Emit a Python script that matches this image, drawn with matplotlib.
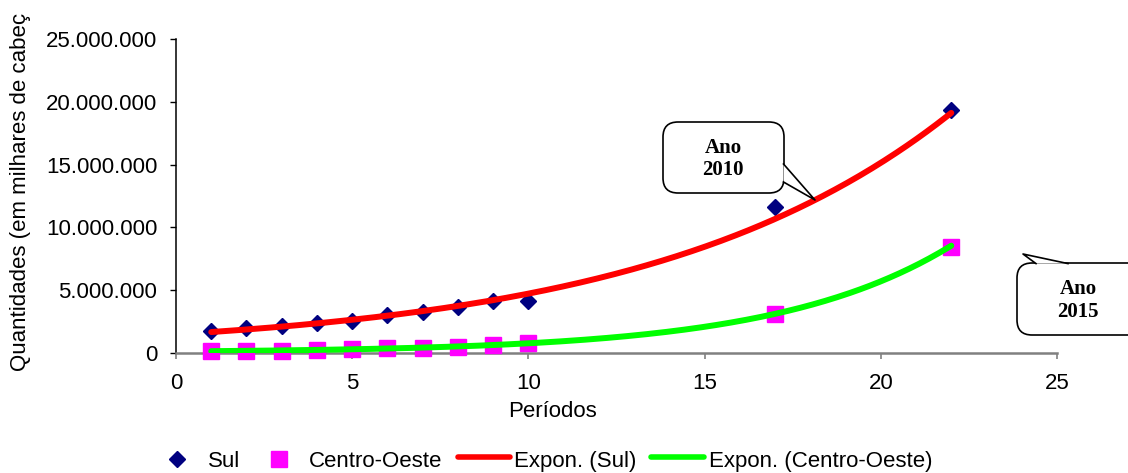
import numpy as np
import matplotlib
matplotlib.use("Agg")
import matplotlib.pyplot as plt
from matplotlib.lines import Line2D
from matplotlib.patches import FancyBboxPatch, Polygon
from matplotlib.ticker import FuncFormatter

# ---- data -------------------------------------------------------------
periodos = [1, 2, 3, 4, 5, 6, 7, 8, 9, 10, 17, 22]
sul = [1730000, 1950000, 2130000, 2350000, 2530000, 2980000,
       3270000, 3620000, 4100000, 4150000, 11600000, 19400000]
centro_oeste = [110000, 150000, 175000, 240000, 290000, 350000,
                400000, 480000, 630000, 740000, 3100000, 8400000]
y_ticks = [0, 5000000, 10000000, 15000000, 20000000, 25000000]
x_ticks = [0, 5, 10, 15, 20, 25]
y_title = "Quantidades (em milhares de cabeç"
x_title = "Períodos"

W, H, DPI = 1128, 473, 100
FONT = "Liberation Sans"
SERIF = "Liberation Serif"
FS = 16

fig = plt.figure(figsize=(W / DPI, H / DPI), dpi=DPI)
fig.patch.set_facecolor("white")

# axes placed in pixel terms
ax_l, ax_r, ax_t, ax_b = 176, 1057, 39.3, 352.7
ax = fig.add_axes([ax_l / W, (H - ax_b) / H, (ax_r - ax_l) / W, (ax_b - ax_t) / H])

x = np.array(periodos, dtype=float)

# scatter series
ax.plot(x, sul, linestyle="none", marker="D", ms=7.8, color="#000080",
        zorder=3, clip_on=False)
ax.plot(x, centro_oeste, linestyle="none", marker="s", ms=11.2, color="#FF00FF",
        zorder=3, clip_on=False)

# exponential trend lines (least squares on log values)
def expon_fit(xv, yv):
    b, lna = np.polyfit(xv, np.log(np.asarray(yv, dtype=float)), 1)
    return np.exp(lna), b

xs = np.linspace(min(periodos), max(periodos), 300)
a_s, b_s = expon_fit(x, sul)
a_c, b_c = expon_fit(x, centro_oeste)
ax.plot(xs, a_s * np.exp(b_s * xs), color="#FF0000", lw=4.3,
        solid_capstyle="round", zorder=4)
ax.plot(xs, a_c * np.exp(b_c * xs), color="#00FF00", lw=4.3,
        solid_capstyle="round", zorder=4)

ax.set_xlim(0, 25)
ax.set_ylim(0, 25000000)
ax.set_xticks(x_ticks)
ax.set_yticks(y_ticks)
ax.yaxis.set_major_formatter(FuncFormatter(
    lambda v, p: "0" if v == 0 else f"{int(round(v)):,}".replace(",", ".")))
ax.xaxis.set_major_formatter(FuncFormatter(lambda v, p: f"{int(v)}"))

for s in ("top", "right"):
    ax.spines[s].set_visible(False)
ax.spines["left"].set_color("black")
ax.spines["left"].set_linewidth(1.1)
ax.spines["bottom"].set_color("#808080")
ax.spines["bottom"].set_linewidth(1.8)
ax.spines["left"].set_zorder(2)
ax.spines["bottom"].set_zorder(2)

ax.tick_params(axis="y", direction="out", length=4.5, width=1.0, color="black",
               pad=9, labelsize=FS, labelcolor="black")
ax.tick_params(axis="x", direction="out", length=4.5, width=1.2, color="#808080",
               pad=10, labelsize=FS, labelcolor="black")
for lbl in ax.get_xticklabels() + ax.get_yticklabels():
    lbl.set_fontfamily(FONT)

# axis titles
fig.text(553 / W, 1 - 417 / H, x_title, ha="center", va="baseline",
         fontsize=FS, family=FONT)
fig.text(21 / W, 1 - 371 / H, y_title,
         rotation=90, ha="center", va="bottom", fontsize=FS, family=FONT)

# helpers working in image pixel coordinates (origin top-left)
tr = fig.dpi_scale_trans
def P(px, py):
    return (px / DPI, (H - py) / DPI)

def callout(x0, y0, x1, y1, tail, lines, line_y, cx):
    box = FancyBboxPatch(P(x0, y1), (x1 - x0) / DPI, (y1 - y0) / DPI,
                         boxstyle="round,pad=0,rounding_size=0.15",
                         transform=tr, facecolor="white", edgecolor="black",
                         lw=1.2, zorder=10)
    fig.add_artist(box)
    fig.add_artist(Polygon([P(*pt) for pt in tail], closed=True, transform=tr,
                           facecolor="white", edgecolor="none", zorder=11))
    p0, tip, p1 = tail
    fig.add_artist(Line2D([P(*p0)[0], P(*tip)[0], P(*p1)[0]],
                          [P(*p0)[1], P(*tip)[1], P(*p1)[1]],
                          transform=tr, color="black", lw=1.2, zorder=12))
    for txt, yy in zip(lines, line_y):
        fig.text(cx / W, 1 - yy / H, txt, ha="center", va="center",
                 fontsize=15, fontweight="bold", family=SERIF, zorder=13)

callout(663, 122, 784, 193, [(783.5, 164), (815, 200), (783.5, 182)],
        ["Ano", "2010"], [148, 170], 723)
callout(1017, 263, 1150, 335, [(1036, 263.6), (1023, 254), (1068, 263.6)],
        ["Ano", "2015"], [289, 312], 1078)

# legend row
ly = 459
fig.add_artist(Line2D([P(177, ly)[0]], [P(177, ly)[1]], transform=tr,
                      marker="D", ms=7.8, color="#000080", linestyle="none"))
fig.add_artist(Line2D([P(279, ly)[0]], [P(279, ly)[1]], transform=tr,
                      marker="s", ms=11.2, color="#FF00FF", linestyle="none"))
fig.add_artist(Line2D([P(458, ly - 2)[0], P(510, ly - 2)[0]], [P(458, ly - 2)[1]] * 2,
                      transform=tr, color="#FF0000", lw=4.0, solid_capstyle="round"))
fig.add_artist(Line2D([P(651, ly - 2)[0], P(704, ly - 2)[0]], [P(651, ly - 2)[1]] * 2,
                      transform=tr, color="#00FF00", lw=4.0, solid_capstyle="round"))
for txt, lx in [("Sul", 208), ("Centro-Oeste", 309),
                ("Expon. (Sul)", 514), ("Expon. (Centro-Oeste)", 709)]:
    fig.text(lx / W, 1 - 467 / H, txt, ha="left", va="baseline",
             fontsize=FS, family=FONT)

fig.savefig("out.png", dpi=DPI, facecolor="white")
